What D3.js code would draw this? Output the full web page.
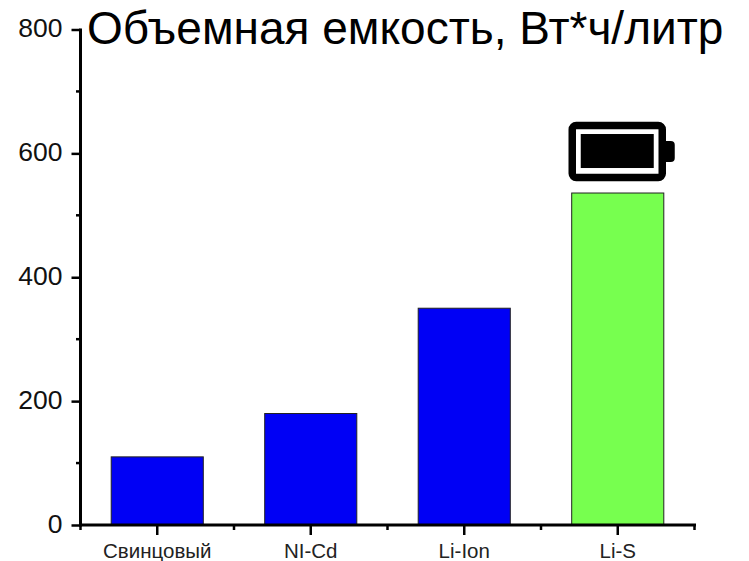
<!DOCTYPE html>
<html>
<head>
<meta charset="utf-8">
<script src="https://cdn.jsdelivr.net/npm/d3@7/dist/d3.min.js"></script>
<style>
  html, body { margin: 0; padding: 0; background: #fff; }
  svg { display: block; font-family: "Liberation Sans", Arial, sans-serif; }
</style>
</head>
<body>
<svg id="chart" width="749" height="561"></svg>
<script>
const categories = ["Свинцовый", "NI-Cd", "Li-Ion", "Li-S"];
const capacities = [110, 180, 350, 536];
const barColors = ["#0000f5", "#0000f5", "#0000f5", "#77ff4f"];
const majorTicks = [0, 200, 400, 600, 800];
const minorTicks = [100, 300, 500, 700];
const titleText = "Объемная емкость, Вт*ч/литр";

const svg = d3.select("#chart");
const plot = { left: 80.5, right: 694.5, top: 29.5, bottom: 525 };

const x = d3.scaleBand()
  .domain(categories)
  .range([plot.left, plot.right])
  .paddingInner(0.4)
  .paddingOuter(0.2);

const y = d3.scaleLinear()
  .domain([0, 800])
  .range([plot.bottom, plot.top]);

// Bars
svg.append("g").selectAll("rect")
  .data(categories)
  .join("rect")
  .attr("x", d => x(d))
  .attr("y", (d, i) => y(capacities[i]))
  .attr("width", x.bandwidth())
  .attr("height", (d, i) => y(0) - y(capacities[i]))
  .attr("fill", (d, i) => barColors[i])
  .attr("stroke", "#222")
  .attr("stroke-width", 1);

// Y axis: labelled major ticks plus short minor ticks
const yAxis = svg.append("g").attr("transform", `translate(${plot.left},0)`);
yAxis.call(d3.axisLeft(y).tickValues(majorTicks).tickSize(9).tickPadding(9).tickFormat(d3.format("d")));
yAxis.selectAll(".tick line").attr("stroke", "#000").attr("stroke-width", 2.5);
yAxis.selectAll(".tick text")
  .attr("font-size", 26.5)
  .attr("font-family", "Liberation Sans")
  .attr("fill", "#111")
  .attr("dy", "0.28em");
yAxis.select(".domain").attr("stroke", "#000").attr("stroke-width", 3).attr("d", `M0,${plot.top - 1}V${plot.bottom + 1.5}`);
yAxis.selectAll(".minor")
  .data(minorTicks)
  .join("line")
  .attr("class", "minor")
  .attr("x1", -4.5)
  .attr("x2", 0)
  .attr("y1", d => y(d))
  .attr("y2", d => y(d))
  .attr("stroke", "#000")
  .attr("stroke-width", 2.5);

// X axis: major ticks at band centres, minor ticks midway between them
const xAxis = svg.append("g").attr("transform", `translate(0,${plot.bottom})`);
xAxis.append("line")
  .attr("x1", plot.left - 1.5)
  .attr("x2", plot.right + 1.5)
  .attr("stroke", "#000")
  .attr("stroke-width", 3);

const step = x.step();
const centers = categories.map(d => x(d) + x.bandwidth() / 2);
const between = [centers[0] - step / 2, ...centers.map(c => c + step / 2)];

xAxis.selectAll(".major")
  .data(centers)
  .join("line")
  .attr("class", "major")
  .attr("x1", d => d)
  .attr("x2", d => d)
  .attr("y1", 0)
  .attr("y2", 10)
  .attr("stroke", "#000")
  .attr("stroke-width", 2.5);

xAxis.selectAll(".minor")
  .data(between)
  .join("line")
  .attr("class", "minor")
  .attr("x1", d => d)
  .attr("x2", d => d)
  .attr("y1", 0)
  .attr("y2", 5)
  .attr("stroke", "#000")
  .attr("stroke-width", 2.5);

xAxis.selectAll(".label")
  .data(categories)
  .join("text")
  .attr("class", "label")
  .attr("x", d => x(d) + x.bandwidth() / 2)
  .attr("y", 33)
  .attr("text-anchor", "middle")
  .attr("font-size", 20.5)
  .attr("fill", "#222")
  .text(d => d);

// Title
svg.append("text")
  .attr("x", 87)
  .attr("y", 44)
  .attr("font-size", 46)
  .attr("fill", "#000")
  .text(titleText);

// Battery icon above the last bar
const lastCategory = categories[categories.length - 1];
const battery = svg.append("g")
  .attr("transform", `translate(${x(lastCategory) + x.bandwidth() / 2},${y(capacities[capacities.length - 1])})`);

battery.append("rect")
  .attr("x", -45.5).attr("y", -67.5)
  .attr("width", 90).attr("height", 52)
  .attr("rx", 4)
  .attr("fill", "#fff")
  .attr("stroke", "#000")
  .attr("stroke-width", 7.5);
battery.append("rect")
  .attr("x", -37).attr("y", -59)
  .attr("width", 73).attr("height", 34)
  .attr("fill", "#000");
battery.append("path")
  .attr("d", "M48,-52 H53 Q57,-52 57,-48 V-35 Q57,-31 53,-31 H48 Z")
  .attr("fill", "#000");
</script>
</body>
</html>
